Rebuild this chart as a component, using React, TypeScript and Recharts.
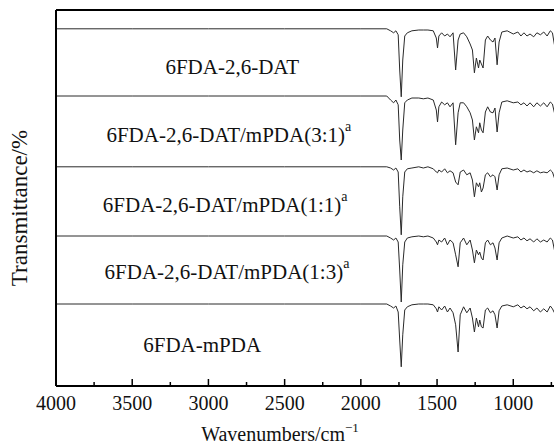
import { LineChart, Line, XAxis, YAxis, ReferenceLine, ReferenceDot } from "recharts";

// wavenumber grid (cm-1), shared by all five spectra
const wavenumbers = [
  4000, 3500, 3000, 2500, 2000, 1830, 1805, 1785, 1770, 1755, 1745, 1735, 1725, 1712, 1695, 1665,
  1620, 1590, 1560, 1525, 1505, 1497, 1488, 1470, 1450, 1432, 1415, 1395, 1378, 1362, 1348, 1326,
  1305, 1283, 1268, 1255, 1242, 1228, 1220, 1209, 1198, 1183, 1168, 1150, 1133, 1120, 1106, 1093,
  1075, 1040, 1000, 970, 950, 930, 910, 890, 866, 845, 822, 800, 778, 757, 743, 730, 700,
];

// stacked transmittance (arbitrary units), top to bottom
const dat = [
  89.3, 89.3, 89.3, 89.3, 89.3, 89.3, 88.8, 88.3, 88.8, 87.8, 79, 72.3, 81.5, 87.5, 88.3, 88.8,
  89, 89, 89, 88.8, 87, 84.5, 87.5, 88.3, 87.5, 88, 87.3, 88.3, 79, 86.5, 88, 88.3,
  87.3, 85.5, 84, 78.3, 82, 79.5, 81.5, 80.5, 79.5, 86.5, 87.5, 86.5, 86, 87, 80.3, 86,
  88.5, 88.8, 88, 88.5, 87.5, 88.3, 87.5, 88, 87.3, 88.3, 87.8, 88.5, 87.5, 88.8, 88.3, 85.3, 84.5,
];
const dat31 = [
  72.5, 72.5, 72.5, 72.5, 72.5, 72.5, 71.5, 70.8, 71.5, 70.3, 61.5, 56.5, 64, 70.8, 71.5, 72,
  72, 71.8, 72, 71.5, 69, 66, 69.8, 71, 70.3, 70.8, 69.8, 70.8, 60.3, 68.3, 70.8, 70.8,
  69.8, 68.3, 66.5, 61.5, 64.8, 63.3, 65.8, 64, 63.3, 68.5, 69.8, 68.5, 68.3, 69.5, 63.5, 68.3,
  71, 71.3, 70.8, 71, 70.3, 70.8, 70, 70.8, 69.8, 70.8, 70, 70.8, 69.8, 71, 70.5, 68.3, 68.3,
];
const dat11 = [
  54.8, 54.8, 54.8, 54.8, 54.8, 54.8, 54.5, 54, 54.5, 53.5, 44.8, 37.8, 47.3, 53.5, 54.3, 54.5,
  54.8, 54.5, 54.8, 54.3, 53.5, 53.3, 54, 53.5, 54.3, 53.3, 53.8, 53.3, 51, 50.3, 53.5, 54,
  52.8, 53.3, 51.5, 47.3, 50.8, 49.8, 50.8, 48.5, 49.5, 52.8, 53.3, 52.3, 52.8, 52.3, 49, 52.8,
  54.3, 54.5, 54, 54.3, 53.5, 54, 53.5, 53.8, 53.3, 53.8, 53.3, 53.5, 53.3, 54, 53.5, 52, 52,
];
const dat13 = [
  37.5, 37.5, 37.5, 37.5, 37.5, 37.5, 37, 36.5, 37, 36, 29, 21, 30.3, 36, 37, 37.3,
  37.5, 37.3, 37.5, 37, 36, 35.3, 36.5, 36, 37, 35.3, 36.5, 35.8, 32.8, 29.8, 35.8, 37,
  35.3, 36.5, 34, 30.8, 34, 32.8, 33.5, 32, 31.5, 35.8, 36.5, 35.3, 35.8, 34.5, 31.5, 35.8,
  37, 37.5, 37, 37.3, 36.5, 37, 36.3, 36.8, 36, 36.8, 36, 36.5, 36, 37, 36.5, 34, 34,
];
const mpda = [
  20.5, 20.5, 20.5, 20.5, 20.5, 20.5, 20, 19.5, 20, 18.5, 11.5, 4.8, 12.8, 19, 19.8, 20.3,
  20.5, 20.5, 20.5, 20.3, 19.3, 18.5, 19.8, 19, 20, 18.5, 19.5, 18.3, 15.3, 8.5, 17.8, 19.8,
  18.3, 19.5, 17, 13.5, 17, 14.8, 16.5, 14.8, 14.5, 19, 19.5, 18.3, 18.8, 17.8, 14.5, 18.8,
  20, 20.3, 19.8, 20.3, 19.5, 20, 19.3, 19.8, 18.8, 19.5, 18.5, 19.3, 18.5, 20, 19.3, 18.3, 18.3,
];

const names = [
  "6FDA-2,6-DAT",
  "6FDA-2,6-DAT/mPDA(3:1)",
  "6FDA-2,6-DAT/mPDA(1:1)",
  "6FDA-2,6-DAT/mPDA(1:3)",
  "6FDA-mPDA",
];
const footnoted = [false, true, true, true, false];

const majorTicks = [4000, 3500, 3000, 2500, 2000, 1500, 1000];
const minorTicks = [3750, 3250, 2750, 2250, 1750, 1250, 750];

const spectra = [dat, dat31, dat11, dat13, mpda];
const data = wavenumbers.map((wn, i) => {
  const row: Record<string, number> = { wn };
  spectra.forEach((s, k) => (row[`s${k}`] = s[i]));
  return row;
});

const SERIF = '"Liberation Serif", "Times New Roman", serif';

// where each name sits, in wavenumber / transmittance units
const labelSpots = [
  { wn: 2844, t: 79.8 },
  { wn: 2866, t: 62.8 },
  { wn: 2890, t: 45.3 },
  { wn: 2878, t: 28.5 },
  { wn: 3041, t: 10.3 },
];

function WaveTick(props: any) {
  const { x, y, payload } = props;
  const major = majorTicks.includes(payload.value);
  return (
    <g>
      <line x1={x} x2={x} y1={y} y2={y - (major ? 7 : 4)} stroke="#000" strokeWidth={1.5} />
      {major && (
        <text x={x} y={y + 24} textAnchor="middle" fontSize={20} fontFamily={SERIF} fill="#111">
          {payload.value}
        </text>
      )}
    </g>
  );
}

function NameLabel(props: any) {
  const { viewBox, text, sup } = props;
  return (
    <text
      x={viewBox.x}
      y={viewBox.y}
      textAnchor="middle"
      dominantBaseline="central"
      fontSize={21}
      fontFamily={SERIF}
      fill="#111"
    >
      {text}
      {sup && (
        <tspan dy={-9} fontSize={14}>
          a
        </tspan>
      )}
    </text>
  );
}

export default function App() {
  return (
    <div style={{ position: "absolute", left: 0, top: 0, width: 554, height: 445, overflow: "hidden", background: "#fff" }}>
      <LineChart width={580} height={445} data={data} margin={{ top: 10, right: 21, bottom: 29, left: 0 }}>
        <XAxis
          dataKey="wn"
          type="number"
          domain={[700, 4000]}
          reversed
          allowDataOverflow
          ticks={[...majorTicks, ...minorTicks].sort((a, b) => b - a)}
          interval={0}
          tickSize={0}
          tickMargin={0}
          tick={<WaveTick />}
          height={30}
          axisLine={{ stroke: "#000", strokeWidth: 2 }}
          label={{
            content: () => (
              <text x={280} y={441} textAnchor="middle" fontSize={20} fontFamily={SERIF} fill="#111">
                Wavenumbers/cm
                <tspan dy={-9} fontSize={13}>
                  −1
                </tspan>
              </text>
            ),
          }}
        />
        <YAxis
          type="number"
          domain={[0, 94]}
          width={56}
          tick={false}
          tickLine={false}
          axisLine={{ stroke: "#000", strokeWidth: 2 }}
          label={{
            content: () => (
              <text
                x={19}
                y={208}
                transform="rotate(-90 19 208)"
                textAnchor="middle"
                dominantBaseline="central"
                fontSize={23}
                fontFamily={SERIF}
                fill="#111"
              >
                Transmittance/%
              </text>
            ),
          }}
        />
        <ReferenceLine y={94} stroke="#000" strokeWidth={2} />
        {spectra.map((_, k) => (
          <Line
            key={k}
            dataKey={`s${k}`}
            type="linear"
            stroke="#2a2a2a"
            strokeWidth={1}
            dot={false}
            isAnimationActive={false}
          />
        ))}
        {names.map((n, k) => (
          <ReferenceDot
            key={n}
            x={labelSpots[k].wn}
            y={labelSpots[k].t}
            r={0}
            fill="none"
            stroke="none"
            label={<NameLabel text={n} sup={footnoted[k]} />}
          />
        ))}
      </LineChart>
    </div>
  );
}
